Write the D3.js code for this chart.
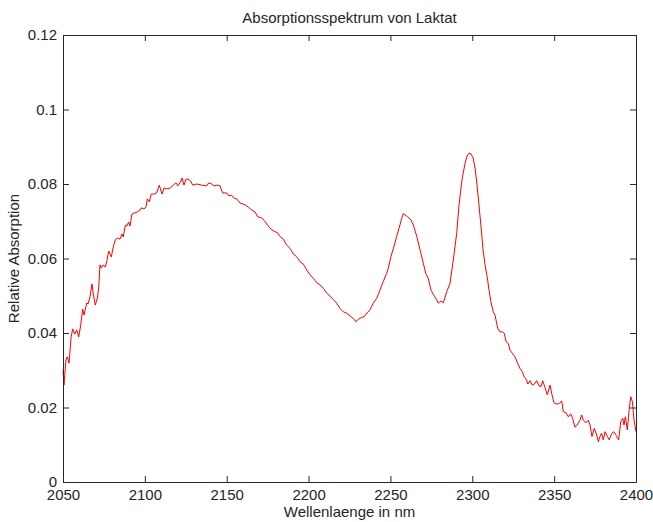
<!DOCTYPE html>
<html>
<head>
<meta charset="utf-8">
<script src="https://cdn.jsdelivr.net/npm/d3@7"></script>
<style>
  body { margin: 0; background: #fff; }
  svg text { font-family: "Liberation Sans", Arial, Helvetica, sans-serif; fill: #262626; }
</style>
</head>
<body>
<div class="chart"></div>
<script>
// values
const wavelength = [
  2050.0, 2050.6, 2051.8, 2052.6, 2053.7, 2054.9, 2055.9, 2057.1, 2058.4, 2059.6,
  2060.8, 2062.0, 2062.8, 2064.5, 2065.3, 2066.5, 2067.7, 2068.5, 2069.7, 2071.0,
  2071.8, 2072.6, 2073.4, 2074.6, 2075.8, 2076.7, 2077.9, 2079.5, 2080.7, 2081.9,
  2083.2, 2084.8, 2086.0, 2086.8, 2088.1, 2088.9, 2090.1, 2090.9, 2092.1, 2093.4,
  2095.4, 2097.0, 2097.8, 2099.5, 2100.7, 2101.5, 2102.7, 2103.9, 2105.6, 2107.2,
  2108.8, 2110.5, 2111.7, 2113.3, 2115.4, 2117.4, 2119.0, 2120.2, 2121.5, 2122.7,
  2123.9, 2125.1, 2126.4, 2128.0, 2129.2, 2131.7, 2134.7, 2137.8, 2139.0, 2140.8,
  2142.2, 2144.3, 2145.9, 2147.5, 2150.0, 2151.2, 2153.0, 2154.5, 2156.1, 2158.1,
  2161.2, 2163.2, 2165.3, 2167.3, 2168.9, 2171.4, 2173.4, 2175.4, 2177.5, 2179.5,
  2181.1, 2182.5, 2184.6, 2186.6, 2188.7, 2190.7, 2192.7, 2194.8, 2196.8, 2198.9,
  2200.9, 2202.9, 2205.0, 2207.0, 2209.0, 2211.1, 2213.1, 2215.1, 2217.2, 2219.2,
  2221.2, 2223.3, 2225.3, 2227.3, 2229.0, 2230.4, 2232.5, 2234.0, 2235.7, 2237.5,
  2239.5, 2241.6, 2243.6, 2245.6, 2247.7, 2248.7, 2250.3, 2252.4, 2253.8, 2255.8,
  2256.9, 2257.9, 2258.9, 2260.5, 2262.6, 2264.0, 2266.1, 2268.1, 2270.1, 2271.6,
  2273.1, 2274.8, 2276.8, 2278.3, 2279.2, 2280.9, 2282.3, 2284.4, 2286.4, 2288.4,
  2290.5, 2291.9, 2293.7, 2295.6, 2296.8, 2298.0, 2299.2, 2300.5, 2301.7, 2302.9,
  2304.1, 2305.4, 2306.6, 2307.8, 2309.4, 2310.2, 2311.4, 2312.8, 2313.9, 2315.5,
  2316.9, 2318.3, 2319.6, 2320.6, 2322.0, 2323.0, 2324.4, 2326.1, 2327.7, 2329.1,
  2330.6, 2331.8, 2333.0, 2333.9, 2335.3, 2336.7, 2337.9, 2339.3, 2340.8, 2342.0,
  2343.0, 2344.4, 2345.8, 2347.5, 2348.5, 2349.9, 2351.6, 2353.2, 2354.6, 2355.6,
  2357.2, 2358.7, 2360.1, 2361.3, 2362.7, 2364.1, 2365.8, 2366.8, 2367.8, 2369.5,
  2370.9, 2371.9, 2373.1, 2374.5, 2376.0, 2377.0, 2378.0, 2379.0, 2380.0, 2381.1,
  2382.5, 2383.7, 2384.7, 2386.1, 2387.2, 2388.2, 2389.4, 2390.7, 2391.9, 2392.7,
  2393.5, 2394.7, 2395.8, 2396.8, 2397.8, 2398.8, 2400.0
];

const absorption = [
  0.0300, 0.0260, 0.0328, 0.0336, 0.0319, 0.0387, 0.0411, 0.0397, 0.0408, 0.0389,
  0.0421, 0.0464, 0.0448, 0.0481, 0.0478, 0.0497, 0.0532, 0.0505, 0.0475, 0.0494,
  0.0521, 0.0583, 0.0574, 0.0583, 0.0577, 0.0591, 0.0620, 0.0604, 0.0631, 0.0650,
  0.0655, 0.0652, 0.0666, 0.0658, 0.0690, 0.0687, 0.0698, 0.0687, 0.0719, 0.0722,
  0.0725, 0.0730, 0.0736, 0.0733, 0.0738, 0.0760, 0.0752, 0.0773, 0.0773, 0.0776,
  0.0797, 0.0773, 0.0789, 0.0787, 0.0789, 0.0797, 0.0803, 0.0795, 0.0803, 0.0816,
  0.0797, 0.0813, 0.0813, 0.0808, 0.0797, 0.0800, 0.0797, 0.0795, 0.0803, 0.0800,
  0.0795, 0.0797, 0.0795, 0.0776, 0.0776, 0.0768, 0.0770, 0.0762, 0.0760, 0.0749,
  0.0744, 0.0738, 0.0730, 0.0725, 0.0712, 0.0709, 0.0699, 0.0687, 0.0677, 0.0672,
  0.0669, 0.0659, 0.0652, 0.0636, 0.0627, 0.0612, 0.0605, 0.0591, 0.0585, 0.0569,
  0.0556, 0.0547, 0.0535, 0.0529, 0.0520, 0.0507, 0.0499, 0.0490, 0.0480, 0.0466,
  0.0457, 0.0453, 0.0446, 0.0439, 0.0430, 0.0437, 0.0442, 0.0444, 0.0454, 0.0462,
  0.0480, 0.0493, 0.0515, 0.0538, 0.0560, 0.0574, 0.0605, 0.0636, 0.0659, 0.0690,
  0.0708, 0.0721, 0.0717, 0.0712, 0.0703, 0.0690, 0.0659, 0.0623, 0.0587, 0.0560,
  0.0547, 0.0515, 0.0499, 0.0489, 0.0480, 0.0486, 0.0481, 0.0511, 0.0533, 0.0596,
  0.0668, 0.0744, 0.0811, 0.0856, 0.0875, 0.0883, 0.0881, 0.0870, 0.0843, 0.0797,
  0.0744, 0.0682, 0.0623, 0.0583, 0.0542, 0.0515, 0.0484, 0.0457, 0.0448, 0.0413,
  0.0403, 0.0403, 0.0399, 0.0377, 0.0372, 0.0354, 0.0346, 0.0336, 0.0319, 0.0305,
  0.0296, 0.0281, 0.0276, 0.0263, 0.0272, 0.0260, 0.0263, 0.0272, 0.0258, 0.0256,
  0.0272, 0.0254, 0.0234, 0.0260, 0.0238, 0.0213, 0.0209, 0.0211, 0.0218, 0.0189,
  0.0186, 0.0175, 0.0183, 0.0171, 0.0147, 0.0153, 0.0166, 0.0180, 0.0166, 0.0159,
  0.0166, 0.0153, 0.0122, 0.0144, 0.0126, 0.0108, 0.0122, 0.0131, 0.0113, 0.0135,
  0.0122, 0.0113, 0.0126, 0.0135, 0.0131, 0.0122, 0.0113, 0.0162, 0.0171, 0.0153,
  0.0175, 0.0140, 0.0193, 0.0229, 0.0216, 0.0166, 0.0135
];

const xTicks = [2050, 2100, 2150, 2200, 2250, 2300, 2350, 2400];
const yTicks = [0, 0.02, 0.04, 0.06, 0.08, 0.1, 0.12];
const yTickLabels = ["0", "0.02", "0.04", "0.06", "0.08", "0.1", "0.12"];

const width = 653;
const height = 522;
const margin = { top: 35, right: 17, bottom: 40, left: 63 };

const svg = d3
  .select(".chart")
  .append("svg")
  .attr("width", width)
  .attr("height", height);

const x = d3
  .scaleLinear()
  .domain([2050, 2400])
  .range([margin.left, width - margin.right]);

const y = d3
  .scaleLinear()
  .domain([0, 0.12])
  .range([height - margin.bottom, margin.top]);

const data = wavelength.map((w, i) => ({ w: w, a: absorption[i] }));

// spectrum
const line = d3
  .line()
  .x((d) => x(d.w))
  .y((d) => y(d.a));

svg
  .append("path")
  .datum(data)
  .attr("fill", "none")
  .attr("stroke", "#ff0000")
  .attr("stroke-width", 1)
  .attr("d", line);

// axes, ticks pointing inward like matlab
function styleAxis(g) {
  g.selectAll("path, line").attr("stroke", "#262626");
  g.selectAll("text").attr("font-size", 15).attr("fill", "#262626");
}

svg
  .append("g")
  .attr("transform", `translate(0,${height - margin.bottom})`)
  .call(d3.axisBottom(x).tickValues(xTicks).tickFormat(d3.format("d"))
    .tickSizeInner(-6).tickSizeOuter(0).tickPadding(7))
  .call(styleAxis)
  .selectAll("text").attr("font-family", null);

svg
  .append("g")
  .attr("transform", `translate(${margin.left},0)`)
  .call(d3.axisLeft(y).tickValues(yTicks).tickFormat((d, i) => yTickLabels[i])
    .tickSizeInner(-6).tickSizeOuter(0).tickPadding(6))
  .call(styleAxis);

svg
  .append("g")
  .attr("transform", `translate(0,${margin.top})`)
  .call(d3.axisTop(x).tickValues(xTicks).tickFormat("")
    .tickSizeInner(-6).tickSizeOuter(0))
  .call(styleAxis);

svg
  .append("g")
  .attr("transform", `translate(${width - margin.right},0)`)
  .call(d3.axisRight(y).tickValues(yTicks).tickFormat("")
    .tickSizeInner(-6).tickSizeOuter(0))
  .call(styleAxis);

svg.selectAll(".domain").attr("stroke-width", 1);

// texts
svg
  .append("text")
  .attr("x", (margin.left + width - margin.right) / 2)
  .attr("y", 23)
  .attr("text-anchor", "middle")
  .attr("font-size", 15)
  .text("Absorptionsspektrum von Laktat");

svg
  .append("text")
  .attr("x", (margin.left + width - margin.right) / 2)
  .attr("y", 517)
  .attr("text-anchor", "middle")
  .attr("font-size", 15)
  .text("Wellenlaenge in nm");

svg
  .append("text")
  .attr("transform", `translate(19,${(margin.top + height - margin.bottom) / 2}) rotate(-90)`)
  .attr("text-anchor", "middle")
  .attr("font-size", 15)
  .text("Relative Absorption");
</script>
</body>
</html>
